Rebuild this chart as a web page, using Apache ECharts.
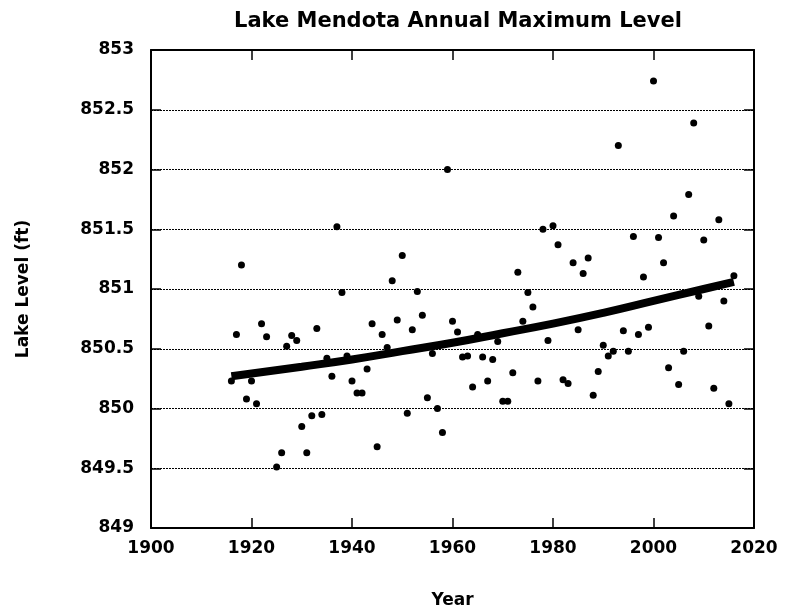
<!DOCTYPE html>
<html>
<head>
<meta charset="utf-8">
<title>Lake Mendota Annual Maximum Level</title>
<script src="https://cdn.jsdelivr.net/npm/echarts@6/dist/echarts.min.js"></script>
<style>
html, body { margin: 0; padding: 0; background: #fff; }
#chart { width: 785px; height: 615px; }
</style>
</head>
<body>
<div id="chart"></div>
<script>
// annual maximum level of the lake (ft)
var years = [1916, 1917, 1918, 1919, 1920, 1921, 1922, 1923, 1925, 1926,
	1927, 1928, 1929, 1930, 1931, 1932, 1933, 1934, 1935, 1936,
	1937, 1938, 1939, 1940, 1941, 1942, 1943, 1944, 1945, 1946,
	1947, 1948, 1949, 1950, 1951, 1952, 1953, 1954, 1955, 1956,
	1957, 1958, 1959, 1960, 1961, 1962, 1963, 1964, 1965, 1966,
	1967, 1968, 1969, 1970, 1971, 1972, 1973, 1974, 1975, 1976,
	1977, 1978, 1979, 1980, 1981, 1982, 1983, 1984, 1985, 1986,
	1987, 1988, 1989, 1990, 1991, 1992, 1993, 1994, 1995, 1996,
	1997, 1998, 1999, 2000, 2001, 2002, 2003, 2004, 2005, 2006,
	2007, 2008, 2009, 2010, 2011, 2012, 2013, 2014, 2015, 2016];
var levels = [850.23, 850.62, 851.20, 850.08, 850.23, 850.04, 850.71, 850.60, 849.51, 849.63,
	850.52, 850.61, 850.57, 849.85, 849.63, 849.94, 850.67, 849.95, 850.42, 850.27,
	851.52, 850.97, 850.44, 850.23, 850.13, 850.13, 850.33, 850.71, 849.68, 850.62,
	850.51, 851.07, 850.74, 851.28, 849.96, 850.66, 850.98, 850.78, 850.09, 850.46,
	850.00, 849.80, 852.00, 850.73, 850.64, 850.43, 850.44, 850.18, 850.62, 850.43,
	850.23, 850.41, 850.56, 850.06, 850.06, 850.30, 851.14, 850.73, 850.97, 850.85,
	850.23, 851.50, 850.57, 851.53, 851.37, 850.24, 850.21, 851.22, 850.66, 851.13,
	851.26, 850.11, 850.31, 850.53, 850.44, 850.48, 852.20, 850.65, 850.48, 851.44,
	850.62, 851.10, 850.68, 852.74, 851.43, 851.22, 850.34, 851.61, 850.20, 850.48,
	851.79, 852.39, 850.94, 851.41, 850.69, 850.17, 851.58, 850.90, 850.04, 851.11];

// fitted trend curve, read at a few years
var trendYears = [1916, 1930, 1940, 1950, 1960, 1970, 1980, 1990, 2000, 2010, 2016];
var trendLevels = [850.27, 850.35, 850.41, 850.48, 850.55, 850.63, 850.71, 850.80, 850.90, 851.00, 851.06];

var points = [];
for (var i = 0; i < years.length; i++) {
	points.push([years[i], levels[i]]);
}
var trend = [];
for (var j = 0; j < trendYears.length; j++) {
	trend.push([trendYears[j], trendLevels[j]]);
}

var font = 'DejaVu Sans, Liberation Sans, sans-serif';
var nameStyle = { color: '#000', fontFamily: font, fontWeight: 'bold', fontSize: 17 };
var tickStyle = { show: true, inside: true, length: 10, lineStyle: { color: '#000', width: 1.5 } };
var frameLine = { show: true, lineStyle: { color: '#000', width: 2 } };

var myChart = echarts.init(document.getElementById('chart'));
var option = {
	animation: false,
	backgroundColor: '#fff',
	title: {
		text: 'Lake Mendota Annual Maximum Level',
		left: 453,
		top: 6,
		textAlign: 'center',
		textStyle: { color: '#000', fontFamily: font, fontWeight: 'bold', fontSize: 21 }
	},
	grid: { left: 151, right: 31, top: 50, bottom: 87 },
	xAxis: [{
		type: 'value',
		min: 1900, max: 2020, interval: 20,
		name: 'Year',
		nameLocation: 'middle',
		nameGap: 64,
		nameTextStyle: nameStyle,
		axisLine: frameLine,
		axisTick: tickStyle,
		axisLabel: {
			margin: 12, color: '#000', fontFamily: font, fontWeight: 'bold', fontSize: 17,
			formatter: function(v) { return String(v); }
		},
		splitLine: { show: false }
	}, {
		type: 'value',
		position: 'top',
		min: 1900, max: 2020, interval: 20,
		axisLine: frameLine,
		axisTick: tickStyle,
		axisLabel: { show: false },
		splitLine: { show: false }
	}],
	yAxis: [{
		type: 'value',
		min: 849, max: 853, interval: 0.5,
		name: 'Lake Level (ft)',
		nameLocation: 'middle',
		nameGap: 119,
		nameTextStyle: nameStyle,
		axisLine: frameLine,
		axisTick: tickStyle,
		axisLabel: { margin: 17, color: '#000', fontFamily: font, fontWeight: 'bold', fontSize: 17 },
		splitLine: { show: true, lineStyle: { color: '#000', width: 1, type: [2, 1] } }
	}, {
		type: 'value',
		position: 'right',
		min: 849, max: 853, interval: 0.5,
		axisLine: frameLine,
		axisTick: tickStyle,
		axisLabel: { show: false },
		splitLine: { show: false }
	}],
	series: [{
		name: 'trend',
		type: 'line',
		data: trend,
		smooth: true,
		symbol: 'none',
		lineStyle: { color: '#000', width: 8, cap: 'butt' },
		z: 2
	}, {
		name: 'level',
		type: 'scatter',
		data: points,
		symbol: 'circle',
		symbolSize: 7,
		itemStyle: { color: '#000', opacity: 1 },
		z: 3
	}]
};
myChart.setOption(option);
</script>
</body>
</html>
